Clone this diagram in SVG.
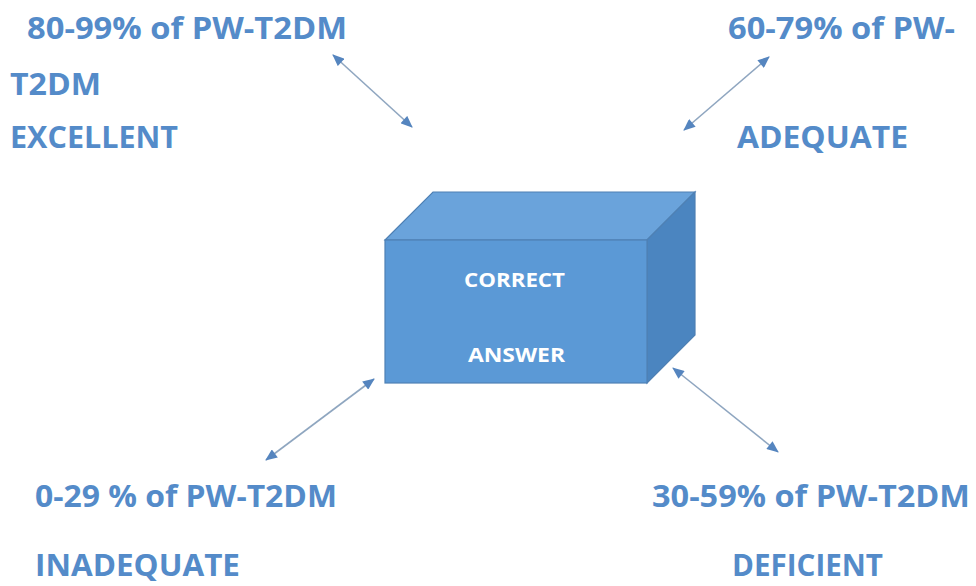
<svg xmlns="http://www.w3.org/2000/svg" width="976" height="586" viewBox="0 0 976 586">
  <style>
    .lbl { font-family: "Open Sans", "Liberation Sans", sans-serif; font-weight: 700; font-size: 31px; fill: #548bc9; }
    .box-txt { font-family: "Open Sans", "Liberation Sans", sans-serif; font-weight: 700; font-size: 20px; fill: #ffffff; }
    .conn { stroke: #8fa6c0; stroke-width: 1.6; fill: none; marker-start: url(#head); marker-end: url(#head); }
  </style>
  <defs>
    <marker id="head" viewBox="0 0 12 10" refX="11" refY="5" markerWidth="13" markerHeight="10" markerUnits="userSpaceOnUse" orient="auto-start-reverse">
      <path d="M0,0 L12,5 L0,10 z" fill="#5585bf"/>
    </marker>
  </defs>
  <rect width="976" height="586" fill="#ffffff"/>

  <g id="connectors">
    <line class="conn" x1="333" y1="55" x2="412" y2="127"/>
    <line class="conn" x1="769" y1="57" x2="684" y2="130"/>
    <line class="conn" x1="374" y1="379" x2="266" y2="460"/>
    <line class="conn" x1="673" y1="368" x2="778" y2="452"/>
  </g>

  <g id="correct-answer">
    <polygon points="385,240 433,192 695,192 647,240" fill="#6aa3db" stroke="#4f80b4" stroke-width="1.2"/>
    <polygon points="647,240 695,192 695,335 647,383" fill="#4b85c0" stroke="#4f80b4" stroke-width="1.2"/>
    <rect x="385" y="240" width="262" height="143" fill="#5b99d6" stroke="#4f80b4" stroke-width="1.2"/>
    <text class="box-txt" x="464" y="287" textLength="101" lengthAdjust="spacingAndGlyphs">CORRECT</text>
    <text class="box-txt" x="468" y="362" textLength="97" lengthAdjust="spacingAndGlyphs">ANSWER</text>
  </g>

  <g id="excellent">
    <text class="lbl" x="27" y="39" textLength="320" lengthAdjust="spacingAndGlyphs">80-99% of PW-T2DM</text>
    <text class="lbl" x="10" y="95" textLength="91" lengthAdjust="spacingAndGlyphs">T2DM</text>
    <text class="lbl" x="10" y="148" textLength="168" lengthAdjust="spacingAndGlyphs">EXCELLENT</text>
  </g>

  <g id="adequate">
    <text class="lbl" x="728" y="39" textLength="227" lengthAdjust="spacingAndGlyphs">60-79% of PW-</text>
    <text class="lbl" x="737" y="148" textLength="171" lengthAdjust="spacingAndGlyphs">ADEQUATE</text>
  </g>

  <g id="inadequate">
    <text class="lbl" x="35" y="507" textLength="302" lengthAdjust="spacingAndGlyphs">0-29 % of PW-T2DM</text>
    <text class="lbl" x="35" y="576" textLength="205" lengthAdjust="spacingAndGlyphs">INADEQUATE</text>
  </g>

  <g id="deficient">
    <text class="lbl" x="652" y="507" textLength="318" lengthAdjust="spacingAndGlyphs">30-59% of PW-T2DM</text>
    <text class="lbl" x="732" y="576" textLength="151" lengthAdjust="spacingAndGlyphs">DEFICIENT</text>
  </g>
</svg>
